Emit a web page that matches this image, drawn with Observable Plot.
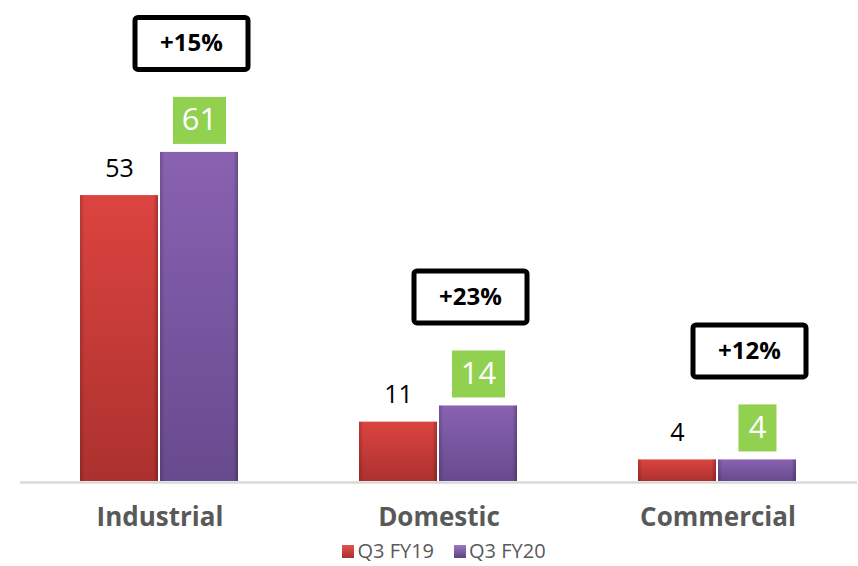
<!DOCTYPE html>
<html>
<head>
<meta charset="utf-8">
<script src="https://cdn.jsdelivr.net/npm/d3@7"></script>
<script src="https://cdn.jsdelivr.net/npm/@observablehq/plot@0.6"></script>
<style>
  html, body { margin: 0; padding: 0; background: #ffffff; }
  #chart { width: 858px; font-family: "Open Sans", sans-serif; }
  .legend { display: flex; justify-content: center; align-items: center; height: 30px; line-height: 30px;
            padding-left: 30px; font-family: "Open Sans", sans-serif; font-size: 20px; color: #595959; }
  .legend .item { display: flex; align-items: center; margin: 0 10px; }
  .legend .sw { width: 12px; height: 13px; margin-right: 3px; }
</style>
</head>
<body>
<div id="chart"></div>
<script>
const categories = ["Industrial", "Domestic", "Commercial"];
const series = ["Q3 FY19", "Q3 FY20"];
const fy19 = [53, 11, 4];
const fy20 = [61, 14, 4];
const growth = ["+15%", "+23%", "+12%"];

const rows19 = categories.map((c, i) => ({category: c, series: series[0], value: fy19[i]}));
const rows20 = categories.map((c, i) => ({category: c, series: series[1], value: fy20[i], label: growth[i]}));

const ns = "http://www.w3.org/2000/svg";
function boxRender({w, h, fill, stroke, strokeWidth, rx}) {
  return function (index, scales, values, dimensions, context, next) {
    const g = next(index, scales, values, dimensions, context);
    const bg = document.createElementNS(ns, "g");
    for (const i of index) {
      const t = values.text ? String(values.text[i]) : "";
      const ww = typeof w === "function" ? w(t) : w;
      const r = document.createElementNS(ns, "rect");
      r.setAttribute("x", values.x[i] - ww / 2);
      r.setAttribute("y", values.y[i] - h / 2);
      r.setAttribute("width", ww);
      r.setAttribute("height", h);
      r.setAttribute("fill", fill);
      if (stroke) { r.setAttribute("stroke", stroke); r.setAttribute("stroke-width", strokeWidth); }
      if (rx) r.setAttribute("rx", rx);
      bg.appendChild(r);
    }
    g.insertBefore(bg, g.firstChild);
    return g;
  };
}

const chart = Plot.plot({
  width: 858,
  height: 536,
  marginLeft: 19,
  marginRight: 0,
  marginTop: 0,
  marginBottom: 55,
  style: {fontFamily: "Open Sans, sans-serif", background: "#ffffff"},
  fx: {domain: categories, padding: 0, label: null},
  x: {domain: series, paddingInner: 0.02, paddingOuter: 0.75, axis: null},
  y: {domain: [0, 89.16], axis: null},
  marks: [
    Plot.ruleY([0], {stroke: "#d9d9d9", strokeWidth: 2.5, dy: 1}),
    Plot.barY(rows19, {fx: "category", x: "series", y: "value", fill: "url(#gRed)"}),
    Plot.barY(rows20, {fx: "category", x: "series", y: "value", fill: "url(#gPur)"}),
    Plot.barY(rows19.concat(rows20), {fx: "category", x: "series", y: "value", fill: "url(#gEdge)"}),
    Plot.text(rows19, {fx: "category", x: "series", y: "value", text: d => String(d.value),
      dy: -27, fontSize: 25, fill: "#000000"}),
    Plot.text(rows20, {fx: "category", x: "series", y: "value", text: d => String(d.value),
      dy: -32, fontSize: 31, fill: "#ffffff",
      render: boxRender({w: t => 23 + 15 * t.length, h: 47, fill: "#92D050"})}),
    Plot.text(rows20, {fx: "category", x: "series", y: "value", text: "label",
      dy: -109, dx: -8, fontSize: 24, fontWeight: 700, fill: "#000000",
      render: boxRender({w: 113, h: 52, fill: "#ffffff", stroke: "#000000", strokeWidth: 5, rx: 3})}),
    Plot.axisFx({anchor: "bottom", tickSize: 0, tickPadding: 26, label: null,
      fontSize: 26, fontWeight: 700, fill: "#595959", style: {letterSpacing: "0.6px"}})
  ]
});

const defs = document.createElementNS(ns, "defs");
defs.innerHTML = `
  <linearGradient id="gRed" x1="0" y1="0" x2="0" y2="1">
    <stop offset="0" stop-color="#DC4440"/>
    <stop offset="1" stop-color="#AC312E"/>
  </linearGradient>
  <linearGradient id="gPur" x1="0" y1="0" x2="0" y2="1">
    <stop offset="0" stop-color="#8962B2"/>
    <stop offset="1" stop-color="#684A8E"/>
  </linearGradient>
  <linearGradient id="gEdge" x1="0" y1="0" x2="1" y2="0">
    <stop offset="0" stop-color="#000" stop-opacity="0.18"/>
    <stop offset="0.06" stop-color="#000" stop-opacity="0"/>
    <stop offset="0.94" stop-color="#000" stop-opacity="0"/>
    <stop offset="1" stop-color="#000" stop-opacity="0.25"/>
  </linearGradient>`;
chart.insertBefore(defs, chart.firstChild);
document.getElementById("chart").appendChild(chart);

const legend = document.createElement("div");
legend.className = "legend";
legend.innerHTML = `
  <span class="item"><span class="sw" style="background:linear-gradient(#E05550,#A8302D)"></span>${series[0]}</span>
  <span class="item"><span class="sw" style="background:linear-gradient(#9A78C4,#5F4287)"></span>${series[1]}</span>`;
document.getElementById("chart").appendChild(legend);
</script>
</body>
</html>
